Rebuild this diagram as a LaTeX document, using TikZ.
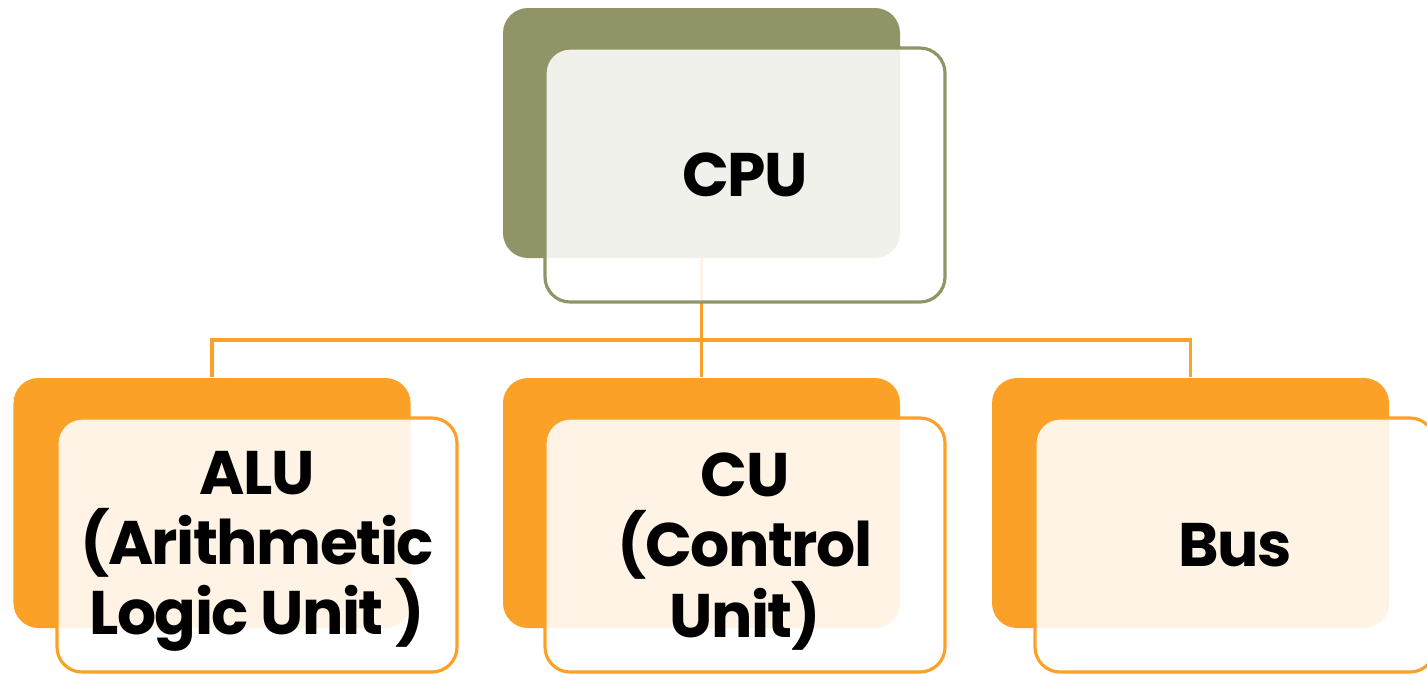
\documentclass[tikz,border=0pt]{standalone}
\usepackage{fontspec}
\setsansfont{Poppins}[LetterSpace=-2.5]
\usetikzlibrary{positioning}
\definecolor{olive}{HTML}{909466}
\definecolor{amber}{HTML}{FCA127}

\begin{document}
\begin{tikzpicture}[
    backbox/.style={rectangle, rounded corners=0.25cm, minimum width=3.97cm, minimum height=2.5cm, inner sep=0pt},
    frontbox/.style={rectangle, rounded corners=0.25cm, minimum width=4.0cm, minimum height=2.54cm, inner sep=0pt,
      fill=white, fill opacity=0.88, text opacity=1, line width=0.9pt, align=center,
      font=\sffamily\bfseries\fontsize{17.5}{20}\selectfont},
    link/.style={draw=amber, line width=0.9pt}]
          \useasboundingbox (0,0) rectangle (14.27,-6.74);

          \node[backbox, fill=olive] (cpuback) at (7.015,-1.33) {};
          \node[backbox, fill=amber] (aluback) at (2.12,-5.03) {};
          \node[backbox, fill=amber] (cuback) at (7.015,-5.03) {};
          \node[backbox, fill=amber] (busback) at (11.905,-5.03) {};

          \coordinate (hub) at (7.015,-3.40);
          \draw[link] (cpuback.south) -- (hub);
          \draw[link] (hub) -| (aluback.north);
          \draw[link] (hub) -| (cuback.north);
          \draw[link] (hub) -| (busback.north);

          \node[frontbox, draw=olive] (cpu) at (7.45,-1.75) {CPU};
          \node[frontbox, draw=amber] (alu) at (2.57,-5.45) {\rule{0pt}{16pt}ALU\\(Arithmetic\\Logic Unit )};
          \node[frontbox, draw=amber] (cu) at (7.45,-5.45) {\rule{0pt}{16pt}CU\\(Control\\Unit)};
          \node[frontbox, draw=amber] (bus) at (12.35,-5.45) {Bus};
        \end{tikzpicture}
\end{document}
